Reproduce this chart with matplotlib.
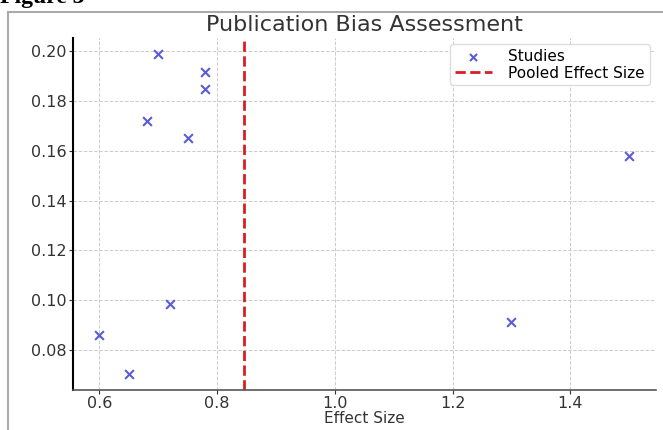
import numpy as np
import matplotlib.pyplot as plt
from matplotlib.lines import Line2D

# Effect size vs standard error for each study (funnel-style plot)
effect_size = [0.70, 0.78, 0.78, 0.68, 0.75, 1.50, 0.60, 0.65, 0.72, 1.30]
std_error = [0.199, 0.1915, 0.1848, 0.1722, 0.1652, 0.158, 0.086, 0.0705, 0.0983, 0.0912]
pooled = np.mean(effect_size)

fig = plt.figure(figsize=(6.63, 4.30), dpi=100)
ax = fig.add_axes([0.110, 0.094, 0.879, 0.818])

ax.scatter(effect_size, std_error, marker='x', color='#5b5bd6', s=40,
           linewidths=1.5, label='Studies', zorder=3)
ax.axvline(pooled, color='#d62020', linestyle='--', linewidth=2,
           label='Pooled Effect Size', zorder=2)

ax.set_title('Publication Bias Assessment', fontsize=16, color='#333333', pad=5)
ax.set_xlabel('Effect Size', fontsize=11, color='#333333', labelpad=0)
ax.set_xticks([0.6, 0.8, 1.0, 1.2, 1.4])
ax.set_yticks([0.08, 0.10, 0.12, 0.14, 0.16, 0.18, 0.20])
ax.tick_params(labelsize=11.5, colors='#333333', length=3, pad=1.5)
ax.grid(True, linestyle='--', color='#cccccc', linewidth=0.7)
ax.spines['top'].set_visible(False)
ax.spines['right'].set_visible(False)
ax.spines['left'].set_linewidth(1.5)
ax.spines['bottom'].set_linewidth(1.2)
ax.spines['bottom'].set_color('#555555')
ax.legend(loc='upper right', fontsize=11, framealpha=1, edgecolor='#dddddd',
          labelspacing=0.15, borderpad=0.3, handlelength=2.4, markerscale=0.8,
          handletextpad=1.1, borderaxespad=0.4)

# page frame and cropped caption from the source document
fig.add_artist(Line2D([8 / 663, 8 / 663], [0, 1 - 12 / 430], color='#aaaaaa', lw=1.5))
fig.add_artist(Line2D([8 / 663, 1], [1 - 12 / 430, 1 - 12 / 430], color='#aaaaaa', lw=1.5))
fig.text(0.0, 1 - 3 / 430, 'Figure 3', fontsize=17, fontweight='bold',
         family='Liberation Serif', va='baseline', ha='left')

fig.savefig('out.png', dpi=100)
